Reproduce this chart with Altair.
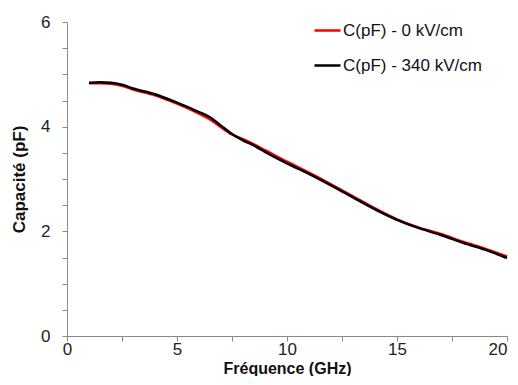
import altair as alt
import pandas as pd

freq = [1, 1.5, 2, 2.5, 3, 4, 5, 6, 6.5, 7, 7.5, 8, 8.5, 9, 10, 11, 12, 13, 14, 15, 16, 17, 18, 19, 20]
c_0kv = [4.83, 4.83, 4.82, 4.78, 4.71, 4.60, 4.44, 4.25, 4.14, 3.99, 3.85, 3.76, 3.66, 3.55, 3.33, 3.12, 2.90, 2.67, 2.44, 2.23, 2.07, 1.95, 1.80, 1.67, 1.52]
c_340kv = [4.84, 4.85, 4.84, 4.80, 4.73, 4.62, 4.46, 4.28, 4.18, 4.02, 3.86, 3.74, 3.64, 3.52, 3.30, 3.10, 2.88, 2.65, 2.42, 2.22, 2.06, 1.93, 1.78, 1.65, 1.49]
series = ["C(pF) - 0 kV/cm", "C(pF) - 340 kV/cm"]
colors = ["#FF0000", "#000000"]
x_ticks = [0, 2.5, 5, 7.5, 10, 12.5, 15, 17.5, 20]
y_ticks = [0, 0.5, 1, 1.5, 2, 2.5, 3, 3.5, 4, 4.5, 5, 5.5, 6]

rows = []
for i, f in enumerate(freq):
    rows.append({"f": f, "c": c_0kv[i], "s": series[0], "o": 0})
    rows.append({"f": f, "c": c_340kv[i], "s": series[1], "o": 1})
df = pd.DataFrame(rows)

font = "Liberation Sans"

chart = alt.Chart(df).mark_line(strokeWidth=2.5, interpolate="monotone").encode(
    x=alt.X("f:Q", title="Fréquence (GHz)",
            scale=alt.Scale(domain=[0, 20], nice=False),
            axis=alt.Axis(values=x_ticks, format="~g",
                          labelExpr="datum.value % 5 == 0 ? datum.label : ''",
                          labelAlign={"condition": {"test": "datum.value == 20", "value": "right"},
                                      "value": "center"},
                          grid=False, domainColor="#888888", tickColor="#888888",
                          tickSize=5, labelFontSize=17, labelColor="#222222",
                          labelPadding=0, titleFontSize=16, titleFontWeight="bold",
                          titleColor="#111111", titlePadding=3, labelFont=font, titleFont=font,
                          labelFlush=False)),
    y=alt.Y("c:Q", title="Capacité (pF)",
            scale=alt.Scale(domain=[0, 6], nice=False),
            axis=alt.Axis(values=y_ticks, format="~g",
                          labelExpr="datum.value % 2 == 0 ? datum.label : ''",
                          grid=False, domainColor="#888888", tickColor="#888888",
                          tickSize=5, labelFontSize=17, labelColor="#222222",
                          labelPadding=12, titleFontSize=17, titleFontWeight="bold",
                          titleColor="#111111", titlePadding=12, labelFont=font, titleFont=font)),
    color=alt.Color("s:N", scale=alt.Scale(domain=series, range=colors),
                    legend=alt.Legend(title=None, orient="none", legendX=246, legendY=-6,
                                      symbolType="stroke", symbolSize=676, symbolStrokeWidth=2.5,
                                      labelFontSize=17, labelFont=font, labelColor="#111111",
                                      labelOffset=1, rowPadding=12)),
    order=alt.Order("o:Q"),
    detail="s:N",
).properties(
    width=440, height=314,
    autosize=alt.AutoSizeParams(type="none"),
    padding={"left": 59, "top": 14, "right": 3, "bottom": 40},
).configure_view(stroke=None)

chart.save("out.html", embed_options={"renderer": "svg", "actions": False})
